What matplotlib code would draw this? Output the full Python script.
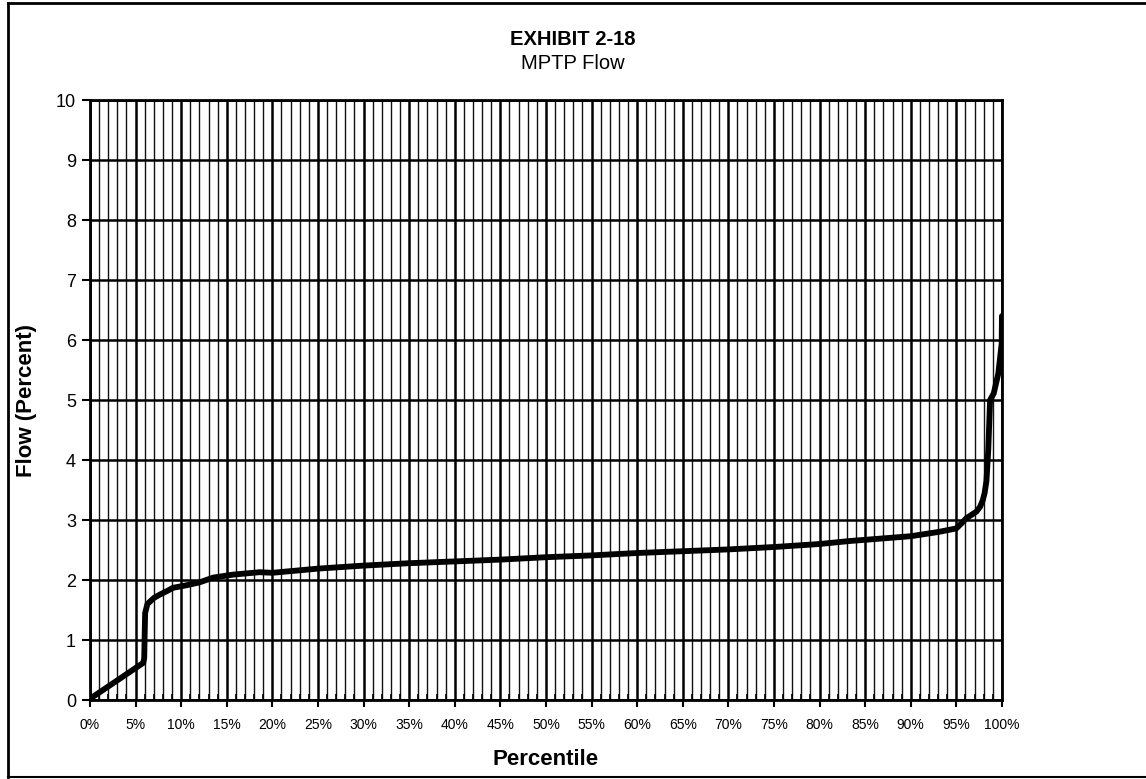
import matplotlib.pyplot as plt
from matplotlib.lines import Line2D
from matplotlib.ticker import MultipleLocator, FuncFormatter

plt.rcParams['font.family'] = ['Liberation Sans', 'DejaVu Sans']

percentile = [0, 5.85, 5.95, 6.0, 6.05, 6.3, 7.0, 7.7, 8.5, 9.1, 10.5, 12.0, 13.5,
              15.7, 18.6, 20.0, 25.0, 30.0, 35.0, 40.0, 45.0, 50.0, 55.0, 60.0,
              65.0, 70.0, 75.0, 80.0, 83.3, 85.0, 90.0, 93.0, 95.0, 95.6, 96.1,
              96.7, 97.2, 97.6, 97.9, 98.1, 98.3, 98.5, 98.7, 99.1, 99.6, 99.97, 100.0]
flow = [0.02, 0.62, 0.7, 1.1, 1.45, 1.6, 1.7, 1.76, 1.82, 1.87, 1.91, 1.96, 2.04,
        2.09, 2.13, 2.12, 2.19, 2.24, 2.28, 2.31, 2.34, 2.38, 2.41, 2.45,
        2.48, 2.51, 2.55, 2.6, 2.65, 2.67, 2.73, 2.8, 2.86, 2.95, 3.03,
        3.09, 3.14, 3.22, 3.33, 3.45, 3.65, 4.17, 5.0, 5.11, 5.44, 5.94, 6.4]

fig = plt.figure(figsize=(11.46, 7.79), dpi=100)
ax = fig.add_axes([0.0785, 0.1014, 0.7958, 0.7702])

ax.plot(percentile, flow, color='black', lw=4.2, solid_joinstyle='round',
        solid_capstyle='round', zorder=5)

ax.set_xlim(0, 100)
ax.set_ylim(0, 10)
ax.xaxis.set_major_locator(MultipleLocator(5))
ax.xaxis.set_minor_locator(MultipleLocator(1))
ax.yaxis.set_major_locator(MultipleLocator(1))
ax.xaxis.set_major_formatter(FuncFormatter(lambda v, p: f'{v:.0f}%'))

ax.grid(which='major', axis='both', color='black', lw=1.8)
ax.grid(which='minor', axis='x', color='#111111', lw=1.0)

ax.tick_params(axis='x', which='major', direction='out', length=5, width=1.5,
               labelsize=10, pad=8)
ax.tick_params(axis='x', which='minor', direction='in', length=4, width=1.2)
ax.tick_params(axis='y', which='major', direction='out', length=6, width=1.5,
               labelsize=13, pad=4)
for s in ax.spines.values():
    s.set_linewidth(2)

ax.set_xlabel('Percentile', fontsize=16, fontweight='bold', labelpad=12)
ax.set_ylabel('Flow (Percent)', fontsize=16, fontweight='bold', labelpad=14)

fig.text(0.5, 0.9487, 'EXHIBIT 2-18', ha='center', va='center',
         fontsize=14.5, fontweight='bold')
fig.text(0.5, 0.919, 'MPTP Flow', ha='center', va='center', fontsize=14.5)

# outer chart border (right edge cut off in the scan)
fig.add_artist(Line2D([0.007, 0.007], [0.003, 0.996], color='black', lw=2))
fig.add_artist(Line2D([0.007, 1.0], [0.996, 0.996], color='black', lw=2))
fig.add_artist(Line2D([0.007, 1.0], [0.003, 0.003], color='black', lw=1.5))

fig.savefig('out.png', dpi=100)
